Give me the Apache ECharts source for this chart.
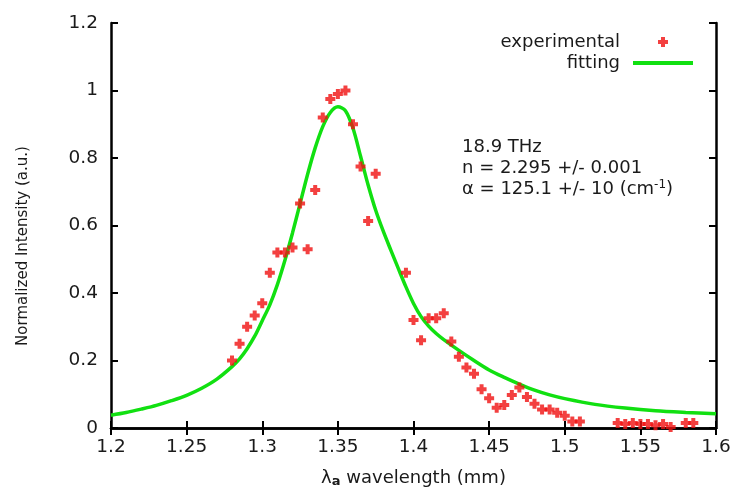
<!DOCTYPE html>
<html>
<head>
<meta charset="utf-8">
<script src="https://cdn.jsdelivr.net/npm/echarts@6/dist/echarts.min.js"></script>
<style>
html,body{margin:0;padding:0;background:#fff;}
#chart{width:739px;height:494px;}
</style>
</head>
<body>
<div id="chart"></div>
<script>
// Experimental data (wavelength, normalized intensity)
const expWavelength = [1.28,1.285,1.29,1.295,1.30,1.305,1.31,1.315,1.32,1.325,1.33,1.335,1.34,1.345,1.35,1.355,1.36,1.365,1.37,1.375,
  1.395,1.40,1.405,1.41,1.415,1.42,1.425,1.43,1.435,1.44,1.445,1.45,1.455,1.46,1.465,1.47,1.475,1.48,1.485,1.49,1.495,1.50,1.505,1.51,
  1.535,1.54,1.545,1.55,1.555,1.56,1.565,1.57,1.58,1.585];
const expIntensity = [0.20,0.25,0.30,0.333,0.37,0.46,0.52,0.52,0.535,0.665,0.53,0.705,0.92,0.975,0.99,1.0,0.90,0.775,0.613,0.753,
  0.46,0.32,0.26,0.325,0.325,0.34,0.256,0.211,0.179,0.161,0.115,0.088,0.06,0.068,0.098,0.12,0.092,0.072,0.055,0.055,0.045,0.036,0.019,0.019,
  0.015,0.012,0.015,0.012,0.012,0.008,0.012,0.003,0.015,0.015];

// Fitted curve
const fitWavelength = [1.20,1.21,1.22,1.23,1.24,1.25,1.26,1.27,1.28,1.285,1.29,1.295,1.30,1.305,1.31,1.315,1.32,1.325,1.33,1.335,1.34,1.345,1.35,1.355,1.36,1.365,1.37,1.375,1.38,1.385,1.39,1.395,1.40,1.405,1.41,1.415,1.42,1.43,1.44,1.45,1.46,1.47,1.48,1.49,1.50,1.52,1.54,1.56,1.58,1.60];
const fitIntensity  = [0.038,0.046,0.056,0.067,0.081,0.097,0.118,0.145,0.182,0.205,0.235,0.272,0.318,0.365,0.425,0.497,0.578,0.665,0.752,0.830,0.893,0.935,0.952,0.940,0.888,0.805,0.720,0.645,0.583,0.527,0.472,0.418,0.369,0.330,0.302,0.280,0.262,0.230,0.200,0.172,0.150,0.130,0.112,0.098,0.087,0.070,0.059,0.051,0.046,0.042];

const xTickInterval = 0.05;
const yTickInterval = 0.2;

const FONT = '"DejaVu Sans", "Liberation Sans", Arial, sans-serif';
const TXT = '#1a1a1a';
const RED = '#f01010';
const GREEN = '#11e011';
const plusPath = 'path://M3,0H7V3H10V7H7V10H3V7H0V3H3Z';

const expData = expWavelength.map((x, i) => [x, expIntensity[i]]);
const fitData = fitWavelength.map((x, i) => [x, fitIntensity[i]]);

const chart = echarts.init(document.getElementById('chart'), null, {renderer: 'canvas'});

const axisLine = {show: true, lineStyle: {color: '#000', width: 2.5}};
const axisTick = {show: true, inside: true, length: 7, lineStyle: {color: '#000', width: 2}};
const legendText = {fontFamily: FONT, fontSize: 18, color: TXT, padding: [0, 8, 0, 0]};

chart.setOption({
  animation: false,
  backgroundColor: '#fff',
  grid: {left: 111, right: 23, top: 23, bottom: 66, containLabel: false},
  xAxis: [
    {type: 'value', min: 1.2, max: 1.6, interval: xTickInterval, position: 'bottom',
     axisLine: axisLine, axisTick: axisTick, splitLine: {show: false},
     axisLabel: {color: TXT, fontFamily: FONT, fontSize: 18.5, margin: 10},
     name: '{l|λ}{s|a}{l| wavelength (mm)}', nameLocation: 'middle', nameGap: 40,
     nameTextStyle: {rich: {
       l: {fontFamily: FONT, fontSize: 18, color: TXT},
       s: {fontFamily: FONT, fontSize: 13, fontWeight: 'bold', color: TXT, verticalAlign: 'bottom', padding: [7, 0, 0, 0]}
     }}},
    {type: 'value', min: 1.2, max: 1.6, interval: xTickInterval, position: 'top',
     axisLine: axisLine, axisTick: axisTick, splitLine: {show: false}, axisLabel: {show: false}}
  ],
  yAxis: [
    {type: 'value', min: 0, max: 1.2, interval: yTickInterval, position: 'left',
     axisLine: axisLine, axisTick: axisTick, splitLine: {show: false},
     axisLabel: {color: TXT, fontFamily: FONT, fontSize: 18.5, margin: 13}},
    {type: 'value', min: 0, max: 1.2, interval: yTickInterval, position: 'right',
     axisLine: axisLine, axisTick: axisTick, splitLine: {show: false}, axisLabel: {show: false}}
  ],
  legend: [
    {orient: 'vertical', right: 66, top: 28, align: 'right',
     itemWidth: 60, itemHeight: 10, textStyle: legendText,
     data: ['experimental']},
    {orient: 'vertical', right: 41, top: 49, align: 'right',
     itemWidth: 60, itemHeight: 4, textStyle: legendText,
     data: [{name: 'fitting', icon: 'rect'}]}
  ],
  series: [
    {name: 'fitting', type: 'line', data: fitData, smooth: 0.3, showSymbol: false, symbol: 'none',
     xAxisIndex: 0, yAxisIndex: 0,
     lineStyle: {color: GREEN, width: 3.5}, itemStyle: {color: GREEN}, z: 2},
    {name: 'experimental', type: 'scatter', data: expData, symbol: plusPath, symbolSize: 10, symbolKeepAspect: true,
     xAxisIndex: 0, yAxisIndex: 0,
     itemStyle: {color: RED}, z: 3}
  ],
  graphic: [
    {type: 'text', x: 23, y: 246, rotation: Math.PI / 2, style: {
      text: 'Normalized Intensity (a.u.)', fontFamily: FONT, fontSize: 15, fill: TXT,
      align: 'center', verticalAlign: 'middle'}},
    {type: 'text', left: 462, top: 137, style: {
      text: '18.9 THz\nn = 2.295 +/- 0.001\n{n|α = 125.1 +/- 10 (cm}{sup|-1}{n|)}',
      fontFamily: FONT, fontSize: 18, lineHeight: 21, fill: TXT,
      rich: {
        n: {fontFamily: FONT, fontSize: 18, color: TXT, lineHeight: 21},
        sup: {fontFamily: FONT, fontSize: 12, color: TXT, verticalAlign: 'top', padding: [0, 0, 9, 0]}
      }
    }}
  ]
});
</script>
</body>
</html>
